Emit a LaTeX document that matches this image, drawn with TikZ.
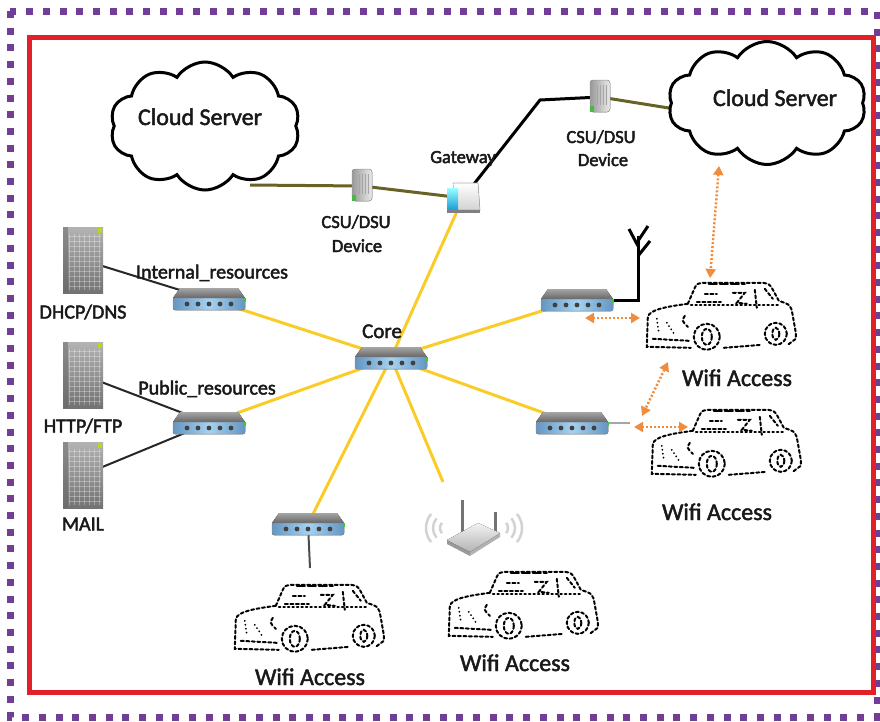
\documentclass[tikz,border=0pt]{standalone}
\usepackage{fontspec}
\setmainfont{Carlito}
\usetikzlibrary{shapes.symbols,arrows.meta}

% slightly heavier label strokes: fill and stroke the glyph outlines
\newcommand\heavytext[1]{\special{pdf:literal direct 2 Tr 0.45 w}#1\special{pdf:literal direct 0 Tr}}

\definecolor{frameviolet}{RGB}{112,62,150}
\definecolor{framered}{RGB}{226,32,40}
\definecolor{cable}{RGB}{250,204,40}
\definecolor{wan}{RGB}{105,98,38}
\definecolor{wifiarrow}{RGB}{240,140,62}
\definecolor{labelink}{RGB}{25,25,25}
\definecolor{portblue}{RGB}{165,210,240}
\definecolor{portedge}{RGB}{100,150,195}
\definecolor{gwblue}{RGB}{20,150,215}

\tikzset{
  lbl/.style={text=labelink, inner sep=0pt, anchor=base, font=\fontsize{20}{22}\selectfont,
    execute at begin node=\special{pdf:literal direct 2 Tr 0.45 w},
    execute at end node=\special{pdf:literal direct 0 Tr}},
  midlbl/.style={lbl, font=\fontsize{18.5}{21}\selectfont},
  bigl/.style={lbl, font=\fontsize{24}{26}\selectfont},
  lan/.style={draw=cable, line width=3pt},
  wanline/.style={draw=wan, line width=3pt},
  blackline/.style={draw=black, line width=3pt},
  thinlink/.style={draw=black!85, line width=2pt},
  radio/.style={draw=wifiarrow, line width=2.5pt, dash pattern=on 2pt off 2pt,
    {Triangle[length=9pt,width=10pt]}-{Triangle[length=9pt,width=10pt]}},
  cloudbox/.style={cloud, cloud puffs=10, cloud puff arc=115, cloud ignores aspect,
    draw=black, line width=3pt, fill=white, inner sep=0pt},
  cardash/.style={draw=black, line width=2pt, dash pattern=on 3pt off 2.5pt, line cap=round},
  carbox/.style={minimum width=152pt, minimum height=67pt, inner sep=0pt},
  % five-port switch, centred
  switchbox/.pic={
    \fill[top color=black!35, bottom color=black!60] (-29,-11) -- (29,-11) -- (36,-1) -- (-36,-1) -- cycle;
    \fill[rounded corners=2pt, left color=portedge, right color=portedge, middle color=portblue]
      (-36,-1) rectangle (36,11);
    \draw[black!45, line width=0.5pt, rounded corners=2pt] (-36,-1) rectangle (36,11);
    \foreach \k in {-2,...,2} \fill[black!75] (\k*11,5) circle (2.4pt);
    \fill[green!60!gray] (35,-1) rectangle (37,3);
  },
  % tower server, centred
  serverbox/.pic={
    \fill[top color=black!30, bottom color=black!55] (-20,-33) rectangle (20,33);
    \fill[black!60, opacity=0.5] (-20,-33) rectangle (-15,33);
    \foreach \r in {-24,-19,...,30} \draw[white, opacity=0.3, line width=0.5pt] (-14,\r) -- (18,\r);
    \foreach \c in {-14,-9,...,18} \draw[white, opacity=0.3, line width=0.5pt] (\c,-26) -- (\c,30);
    \fill[yellow!70!green] (15,-32) rectangle (19,-27);
  },
  % gateway router, centred
  gatewaybox/.pic={
    \fill[top color=white, bottom color=gray!35, draw=gray!65, line width=0.6pt]
      (-10,-15) -- (15,-15) -- (17,12) -- (-8,12) -- cycle;
    \fill[top color=cyan!40, bottom color=gwblue] (-16,-10) rectangle (-5,13);
    \fill[black!50] (-16,12) rectangle (17,15);
  },
  % CSU/DSU unit, centred
  csubox/.pic={
    \fill[rounded corners=3pt, left color=black!40, right color=black!8, draw=black!40, line width=0.5pt]
      (-10,-17) rectangle (10,15);
    \foreach \c in {-3,0,...,7} \draw[black!35, line width=0.4pt] (\c,-12) -- (\c,8);
    \fill[green!45!gray] (-10,9) rectangle (-6,15);
  },
  % wireless access point, centred
  wapbox/.pic={
    \foreach \r in {8,15,22} {
      \draw[gray!35, line width=2.5pt] (-25,-9) ++(140:\r) arc[start angle=140, end angle=220, radius=\r];
      \draw[gray!35, line width=2.5pt] (27,-9) ++(-40:\r) arc[start angle=-40, end angle=40, radius=\r];
    }
    \draw[black!55, line width=3pt] (-11,-37) -- (-11,-4);
    \draw[black!55, line width=3pt] (22,-25) -- (22,-3);
    \fill[black!40] (-26,3) -- (-3,15) -- (-3,19) -- (-26,7) -- cycle;
    \fill[black!30] (-3,15) -- (27,-4) -- (27,0) -- (-3,19) -- cycle;
    \fill[top color=black!5, bottom color=black!30] (-26,3) -- (5,-14) -- (27,-4) -- (-3,15) -- cycle;
  },
  % dotted car outline, origin at the top-left corner of its box
  car/.pic={
    \draw[cardash] (43,21) -- (50,5) .. controls (52,1) .. (58,0) -- (118,0)
      .. controls (124,1) .. (127,5) -- (134,18) .. controls (146,22) .. (148,33)
      -- (151,50) -- (151,56) -- (143,62);
    \draw[cardash] (43,21) .. controls (20,24) and (5,27) .. (3,34) -- (2,64) -- (46,65);
    \draw[cardash] (79,65) -- (117,62);
    \draw[cardash] (62,54) circle[radius=13];
    \draw[cardash] (62,54) ellipse[x radius=5, y radius=8];
    \draw[cardash] (131,51) circle[radius=11];
    \draw[cardash] (131,51) ellipse[x radius=3.5, y radius=6];
    \draw[cardash, dash pattern=on 1.5pt off 3pt] (46,22) -- (134,22);
    \draw[cardash, dash pattern=on 8pt off 3pt] (64,1) -- (100,1);
    \draw[cardash] (52,19) -- (76,19);
    \draw[cardash] (60,11) -- (72,11);
    \draw[cardash] (88,10) -- (100,10) -- (92,20) -- (102,21);
    \draw[cardash] (110,7) -- (112,25);
    \draw[cardash] (120,6) -- (128,16);
    \draw[cardash] (40,33) .. controls (37,38) .. (43,44);
    \draw[cardash, dash pattern=on 0pt off 4pt] (12,36) -- (14,50);
    \draw[cardash, dash pattern=on 0pt off 4pt] (22,40) -- (30,52);
    \draw[cardash] (8,56) -- (44,58);
  },
}

\begin{document}
\begin{tikzpicture}[x=1pt,y=-1pt]
\useasboundingbox (0,0) rectangle (880,721);

% outer frames
\draw[frameviolet, line width=7pt, dash pattern=on 7pt off 9.7pt] (10,11) rectangle (877,717);
\draw[framered, line width=5pt] (29,37) rectangle (873,692);

% device positions
\coordinate (core) at (391,358);
\coordinate (swInt) at (209,299);
\coordinate (swPub) at (209,423);
\coordinate (swTR) at (577,300);
\coordinate (swBR) at (572,423);
\coordinate (swB) at (308,524);
\coordinate (gw) at (463,198);
\coordinate (csuL) at (362,186);
\coordinate (csuR) at (600,97);
\coordinate (srvDhcp) at (83,260);
\coordinate (srvHttp) at (83,375);
\coordinate (srvMail) at (83,475);
\coordinate (wap) at (473,537);

% cable ends and bends
\coordinate (wapLink) at (443,482);
\coordinate (cloudLtap) at (250,185);
\coordinate (cloudRtap) at (700,113);
\coordinate (wanBend) at (540,100);
\coordinate (mastFoot) at (638,300);
\coordinate (mastTop) at (638,236);
\coordinate (swBdrop) at (310,568);
\coordinate (swBRstub) at (630,423);

% LAN cabling from the core switch
\draw[lan] (core) -- (gw);
\draw[lan] (core) -- (swInt);
\draw[lan] (core) -- (swPub);
\draw[lan] (core) -- (swTR);
\draw[lan] (core) -- (swBR);
\draw[lan] (core) -- (swB);
\draw[lan] (core) -- (wapLink);

% server links
\draw[thinlink] (srvDhcp) -- (swInt);
\draw[thinlink] (srvHttp) -- (swPub);
\draw[thinlink] (srvMail) -- (swPub);

% WAN links
\draw[wanline] (cloudLtap) -- (csuL) -- (gw);
\draw[blackline] (gw) -- (wanBend) -- (csuR);
\draw[wanline] (csuR) -- (cloudRtap);

% antenna mast and drops
\draw[blackline] (swTR) -| (mastFoot) -- (mastTop);
\draw[blackline] (638,246) -- (629,229);
\draw[blackline] (638,241) -- (648,226);
\draw[blackline] (638,256) -- (650,241);
\draw[thinlink, draw=black!70] (swB) -- (swBdrop);
\draw[thinlink, draw=gray!70] (swBR) -- (swBRstub);

% clouds
\node[cloudbox, minimum width=190pt, minimum height=128pt] (cloudL) at (205,126) {};
\node[cloudbox, minimum width=198pt, minimum height=123pt] (cloudR) at (767,103) {};
\node[bigl] (cloudLtxt) at (200,125) {Cloud Server};
\node[bigl] (cloudRtxt) at (775,106) {Cloud Server};

% devices
\pic at (gw) {gatewaybox};
\pic at (csuL) {csubox};
\pic at (csuR) {csubox};
\pic at (core) {switchbox};
\pic at (swInt) {switchbox};
\pic at (swPub) {switchbox};
\pic at (swTR) {switchbox};
\pic at (swBR) {switchbox};
\pic at (swB) {switchbox};
\pic at (srvDhcp) {serverbox};
\pic at (srvHttp) {serverbox};
\pic at (srvMail) {serverbox};
\pic at (wap) {wapbox};

% cars
\node[carbox] (car1) at (721,316.5) {};
\node[carbox] (car2) at (726,443.5) {};
\node[carbox] (car3) at (309,618.5) {};
\node[carbox] (car4) at (523,605.5) {};
\pic at (car1.north west) {car};
\pic at (car2.north west) {car};
\pic at (car3.north west) {car};
\pic at (car4.north west) {car};

% wireless associations
\coordinate (cloudRfoot) at (719,166);
\coordinate (car1top) at (710,278);
\coordinate (swTRport) at (585,318);
\coordinate (car1left) at (640,318);
\coordinate (car1low) at (668,362);
\coordinate (car2up) at (642,416);
\coordinate (swBRport) at (634,427);
\coordinate (car2left) at (688,427);
\draw[radio] (cloudRfoot) -- (car1top);
\draw[radio] (swTRport) -- (car1left);
\draw[radio] (car1low) -- (car2up);
\draw[radio] (swBRport) -- (car2left);

% labels
\node[midlbl] (gwtxt) at (463,163) {Gateway};
\node[midlbl] (csuLtxt1) at (356,228) {CSU/DSU};
\node[midlbl] (csuLtxt2) at (357,252) {Device};
\node[midlbl] (csuRtxt1) at (601,143) {CSU/DSU};
\node[midlbl] (csuRtxt2) at (603,166) {Device};
\node[lbl] (inttxt) at (212,278.5) {Internal\_resources};
\node[lbl] (pubtxt) at (207,394.5) {Public\_resources};
\node[lbl] (dhcptxt) at (83,318.5) {DHCP/DNS};
\node[lbl] (httptxt) at (83,432.5) {HTTP/FTP};
\node[lbl] (mailtxt) at (83,530.5) {MAIL};
\node[lbl, font=\fontsize{21}{23}\selectfont] (coretxt) at (382,338) {Core};
\node[bigl] (car1txt) at (737,386) {Wifi Access};
\node[bigl] (car2txt) at (717,520) {Wifi Access};
\node[bigl] (car3txt) at (310,685) {Wifi Access};
\node[bigl] (car4txt) at (515,671) {Wifi Access};
\end{tikzpicture}
\end{document}
